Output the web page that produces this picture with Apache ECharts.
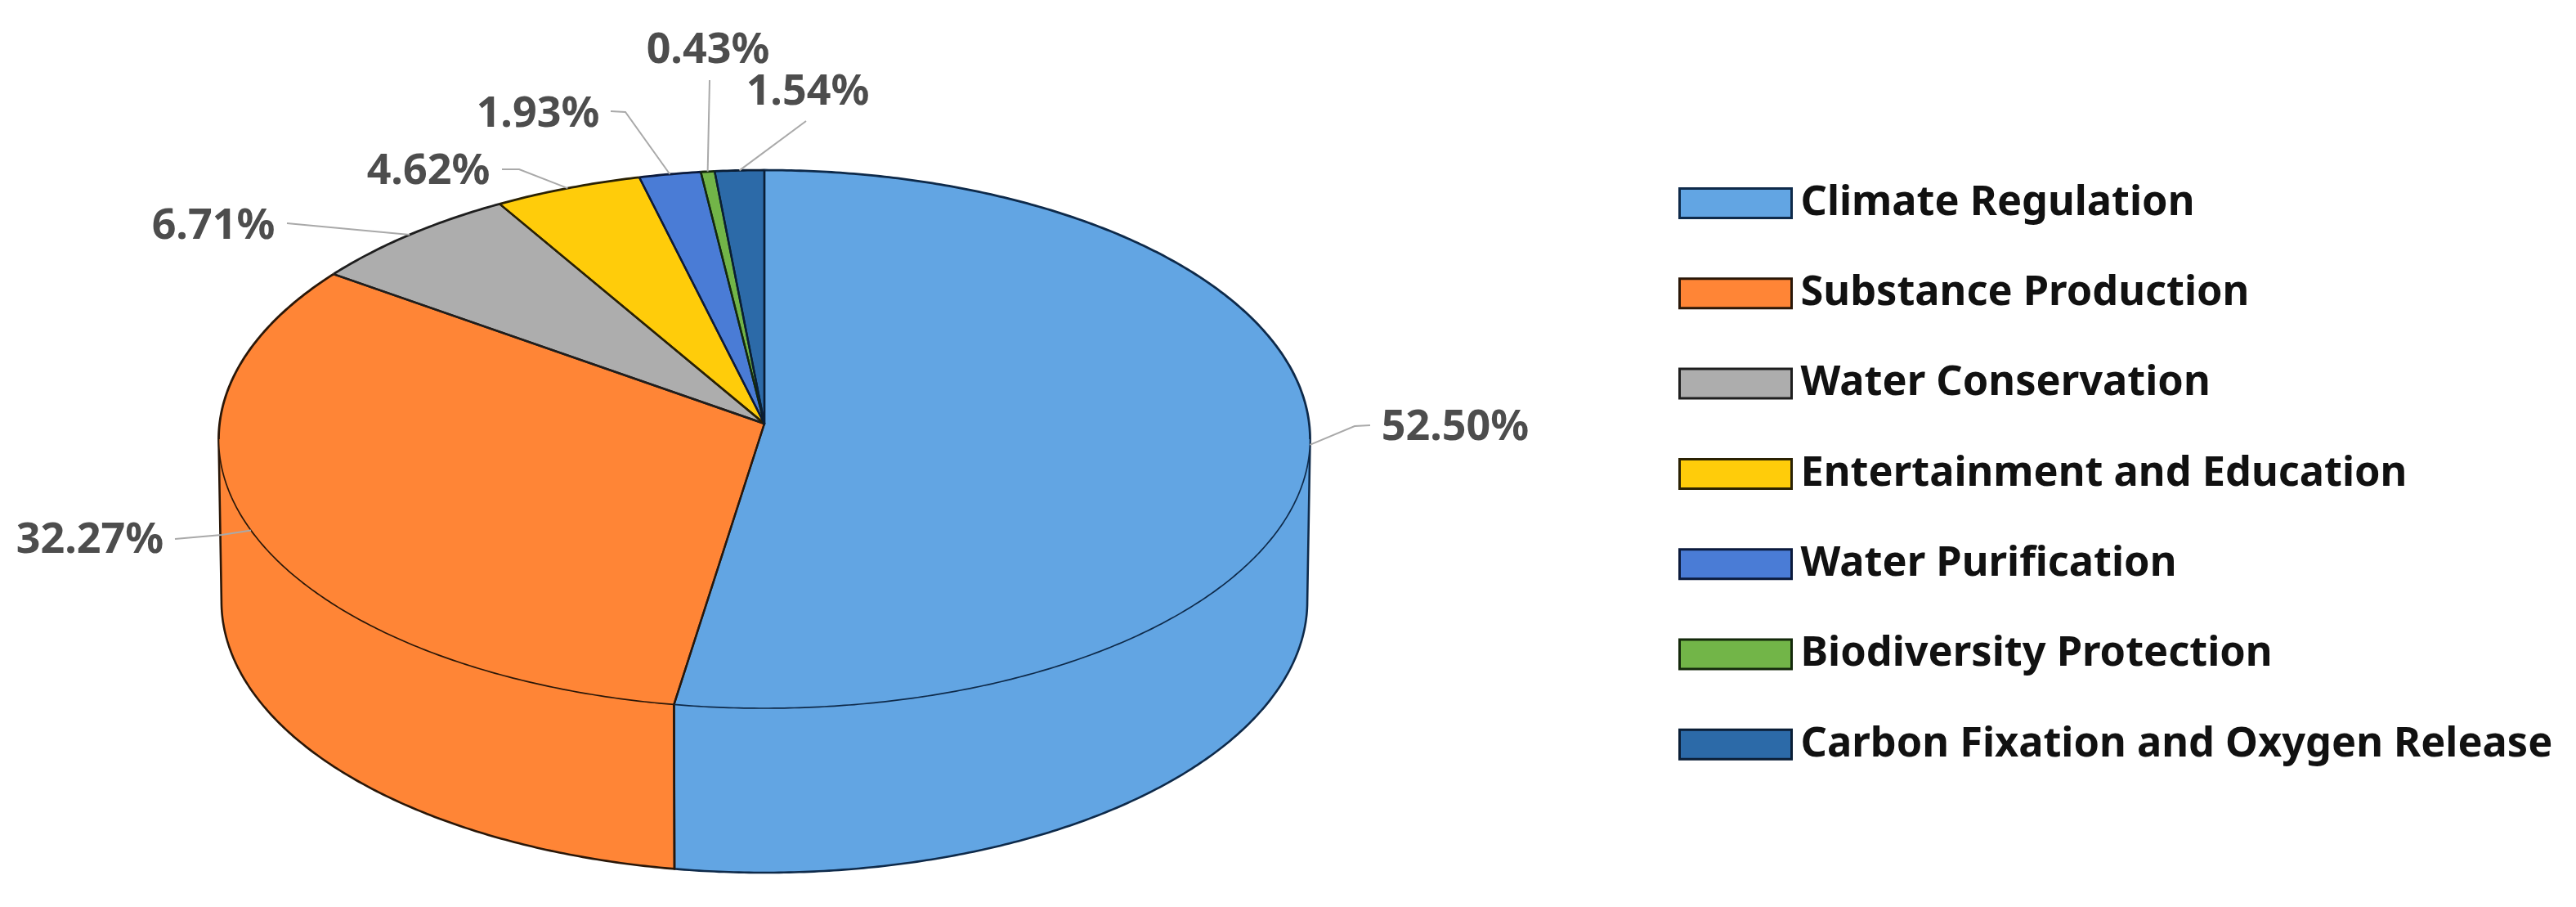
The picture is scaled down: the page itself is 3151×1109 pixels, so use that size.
<!DOCTYPE html>
<html>
<head>
<meta charset="utf-8">
<style>html,body{margin:0;padding:0;background:#fff}#c{width:3151px;height:1109px}</style>
<script src="https://cdn.jsdelivr.net/npm/echarts@6/dist/echarts.min.js"></script>
</head>
<body>
<div id="c"></div>
<script>
// Data
const categories = ['Climate Regulation','Substance Production','Water Conservation','Entertainment and Education','Water Purification','Biodiversity Protection','Carbon Fixation and Oxygen Release'];
const shares = [52.50,32.27,6.71,4.62,1.93,0.43,1.54];
const labels = ['52.50%','32.27%','6.71%','4.62%','1.93%','0.43%','1.54%'];

// Styles
const fills = ['#62A5E3','#FF8536','#ADADAD','#FFCC0A','#4A7CD6','#72B548','#2C6AA8'];
const edges = ['#0E2A4A','#2A1708','#1E1E1E','#2A2103','#0B1A3C','#14290B','#0A1E36'];

// Layout: label centre and leader end points, in page pixels
const labelCentres = [[1780,523],[110,661],[261,277],[524,210],[658,140],[866,62],[988,113]];
const leaderPaths = [[[1657,521],[1676,520]],[[271,654],[214,659]],[[351,273]],[[635,207],[614,207]],[[765,137],[747,136]],[[868,98]],[[986,148]]];

// Perspective disc: circle mapped about its apex
const apex = [935,518], k = 0.0578;
const topDisc = {ax:666.4, by:327.9, y:apex[1]};
const baseDisc = {ax:663, by:330.7, y:apex[1]+198};
function rim(d, deg){
  const t = deg*Math.PI/180, u = Math.sin(t), v = Math.cos(t), w = 1+k*v;
  return [apex[0]+d.ax*u/w, d.y-d.by*v/w];
}
function arc(d, a, b){
  const n = Math.max(2, Math.ceil(Math.abs(b-a)*2)), out = [];
  for(let j=0;j<=n;j++) out.push(rim(d, a+(b-a)*j/n));
  return out;
}
const total = shares.reduce((s,v)=>s+v,0);
const rightEdge = Math.acos(-k)*180/Math.PI, leftEdge = 360-rightEdge;

function renderSlice(params){
  const i = params.seriesIndex;
  const before = shares.slice(0,i).reduce((s,v)=>s+v,0);
  const a = before/total*360, b = (before+shares[i])/total*360;
  const children = [];
  const w0 = Math.max(a,rightEdge), w1 = Math.min(b,leftEdge);
  if(w1>w0){
    const t = arc(topDisc,w0,w1), bt = arc(baseDisc,w0,w1);
    children.push({type:'polygon',z2:1,shape:{points:t.concat(bt.slice().reverse())},style:{fill:fills[i],stroke:null}});
    children.push({type:'polyline',z2:2,shape:{points:[t[0]].concat(bt,[t[t.length-1]])},style:{fill:null,stroke:edges[i],lineWidth:2.6}});
  }
  const edge = arc(topDisc,a,b);
  const centre = [apex[0],apex[1]];
  children.push({type:'polygon',z2:10,shape:{points:[centre].concat(edge)},style:{fill:fills[i],stroke:null}});
  // the two straight sides of the slice
  children.push({type:'polyline',z2:12,shape:{points:[edge[0],centre,edge[edge.length-1]]},style:{fill:null,stroke:edges[i],lineWidth:2.4,lineJoin:'round'}});
  // the rim: heavy along the back of the disc, fine where it meets the wall
  const backA = a, frontStart = Math.max(a,rightEdge), frontEnd = Math.min(b,leftEdge);
  if(frontEnd>frontStart){
    children.push({type:'polyline',z2:11,shape:{points:arc(topDisc,frontStart,frontEnd)},style:{fill:null,stroke:edges[i],lineWidth:1.7}});
    if(a<rightEdge) children.push({type:'polyline',z2:11,shape:{points:arc(topDisc,a,rightEdge)},style:{fill:null,stroke:edges[i],lineWidth:2.8}});
    if(b>leftEdge) children.push({type:'polyline',z2:11,shape:{points:arc(topDisc,leftEdge,b)},style:{fill:null,stroke:edges[i],lineWidth:2.8}});
  } else {
    children.push({type:'polyline',z2:11,shape:{points:edge},style:{fill:null,stroke:edges[i],lineWidth:2.8}});
  }
  const mid = (a+b)/2;
  children.push({type:'polyline',z2:20,shape:{points:[rim(topDisc,mid)].concat(leaderPaths[i])},style:{fill:null,stroke:'#a9a9a9',lineWidth:2}});
  children.push({type:'text',z2:21,style:{text:labels[i],x:labelCentres[i][0],y:labelCentres[i][1],align:'center',verticalAlign:'middle',fill:'#4d4d4d',font:'bold 52px "Noto Sans"'}});
  return {type:'group',children};
}

const chart = echarts.init(document.getElementById('c'),null,{renderer:'canvas'});
chart.setOption({
  animation:false,
  backgroundColor:'#fff',
  legend:{
    orient:'vertical',left:2053,top:223,padding:0,itemWidth:137,itemHeight:36,itemGap:59.3,selectedMode:false,
    textStyle:{color:'#111',fontFamily:'Noto Sans',fontWeight:'bold',fontSize:50.5,padding:[0,0,0,6]},
    data:categories.map((name,i)=>({name,icon:'rect',itemStyle:{color:fills[i],borderColor:edges[i],borderWidth:3}}))
  },
  series:categories.map((name,i)=>({
    type:'custom',name,coordinateSystem:'none',silent:true,
    itemStyle:{color:fills[i]},
    data:[[shares[i]]],
    renderItem:renderSlice
  }))
});
</script>
</body>
</html>
